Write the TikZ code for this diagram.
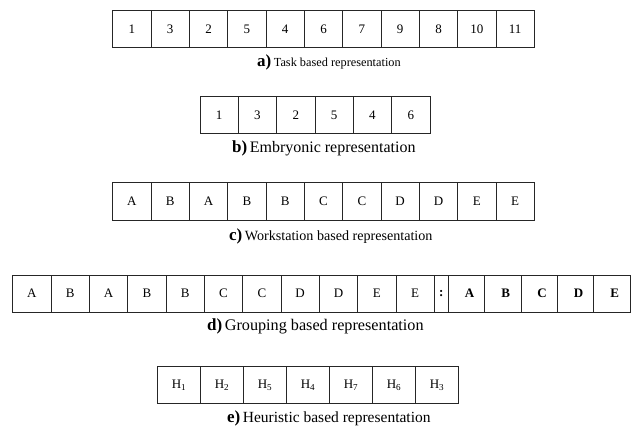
\documentclass[tikz,border=0pt]{standalone}
\usepackage{fontspec}
\setmainfont{Liberation Serif}
\begin{document}
\begin{tikzpicture}[x=1pt,y=-1pt,
  cell/.style={draw=black!85, line width=0.9pt, inner sep=0pt, outer sep=0pt,
    anchor=west, font=\fontsize{13}{15}\selectfont},
  capt/.style={anchor=base west, inner sep=0pt}]
\useasboundingbox (0,0) rectangle (633,426);
% row a
\foreach \t [count=\i from 0] in {1,3,2,5,4,6,7,9,8,10,11}
  \node[cell, minimum width=38.33pt, minimum height=36.6pt] (a\i) at ({112.7+38.33*\i},29) {\t};
\node[capt] (capa) at (257,66) {{\fontsize{17}{17}\selectfont\bfseries a)} \fontsize{12.3}{14}\selectfont Task based representation};
% row b
\foreach \t [count=\i from 0] in {1,3,2,5,4,6}
  \node[cell, minimum width=38.33pt, minimum height=36.6pt] (b\i) at ({200+38.33*\i},115) {\t};
\node[capt] (capb) at (232,152) {{\fontsize{17}{17}\selectfont\bfseries b)} \fontsize{16}{18}\selectfont Embryonic representation};
% row c
\foreach \t [count=\i from 0] in {A,B,A,B,B,C,C,D,D,E,E}
  \node[cell, minimum width=38.33pt, minimum height=37.3pt] (c\i) at ({112.7+38.33*\i},201.3) {\t};
\node[capt] (capc) at (229,240.5) {{\fontsize{17}{17}\selectfont\bfseries c)} \fontsize{14.1}{16}\selectfont Workstation based representation};
% row d
\foreach \t [count=\i from 0] in {A,B,A,B,B,C,C,D,D,E,E}
  \node[cell, minimum width=38.33pt, minimum height=37.3pt] (d\i) at ({12.7+38.33*\i},293.7) {\t};
\node[cell, minimum width=14pt, minimum height=37.3pt, font=\fontsize{13}{15}\selectfont\bfseries] (dcol) at (434.3,293.7) {:};
\foreach \t [count=\i from 0] in {A,B,C,D,E}
  \node[cell, minimum width=36.34pt, minimum height=37.3pt, font=\fontsize{13}{15}\selectfont\bfseries] (dg\i) at ({448.3+36.34*\i},293.7) {\hspace*{6pt}\t};
\node[capt] (capd) at (207,330) {{\fontsize{17}{17}\selectfont\bfseries d)} \fontsize{16.2}{18}\selectfont Grouping based representation};
% row e
\foreach \t [count=\i from 0] in {1,2,5,4,7,6,3}
  \node[cell, minimum width=43pt, minimum height=37pt] (e\i) at ({157.5+43*\i},385.2) {H\textsubscript{\t}};
\node[capt] (cape) at (227,422) {{\fontsize{17}{17}\selectfont\bfseries e)} \fontsize{15.5}{17}\selectfont Heuristic based representation};
\end{tikzpicture}
\end{document}
